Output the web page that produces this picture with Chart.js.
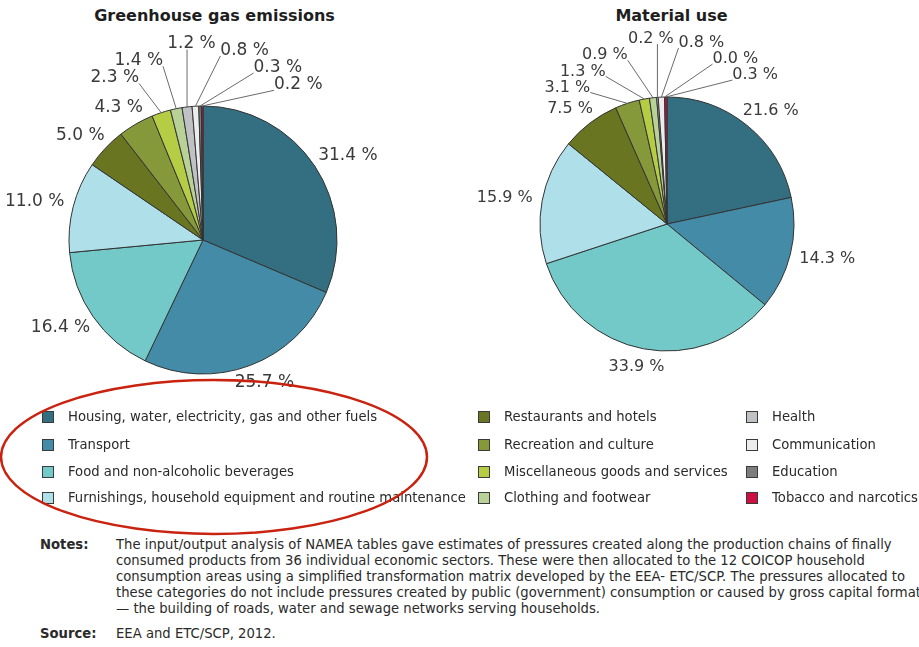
<!DOCTYPE html>
<html>
<head>
<meta charset="utf-8">
<script src="https://cdn.jsdelivr.net/npm/chart.js@4.4.1/dist/chart.umd.min.js"></script>
<style>
  body { margin: 0; width: 919px; height: 647px; overflow: hidden; background: #fff; position: relative; font-family: "DejaVu Sans", Verdana, sans-serif; color: #2a2a2a; }
  canvas { position: absolute; }
  .title { position: absolute; top: 6px; font-weight: bold; font-size: 16px; line-height: 20px; text-align: center; color: #1e1e1e; }
  .leg { position: absolute; font-size: 13.2px; line-height: 16px; white-space: nowrap; color: #2a2a2a; }
  .leg i { position: absolute; left: 0; top: 2px; width: 12px; height: 12px; box-sizing: border-box; border: 1px solid #3a3a3a; }
  .leg span { position: absolute; left: 26px; top: 0; }
  .notes { position: absolute; font-size: 13.2px; line-height: 16px; white-space: pre; color: #2a2a2a; }
  .notes b { position: absolute; left: -76px; top: 0; }
</style>
</head>
<body>
<div class="title" style="left:0;width:429px">Greenhouse gas emissions</div>
<div class="title" style="left:460px;width:423px">Material use</div>
<canvas id="ghg" width="406" height="480" style="left:0;top:0"></canvas>
<canvas id="mat" width="414" height="448" style="left:460px;top:0"></canvas>
<div id="legend"></div>
<div class="notes" style="left:116px;top:537px"><b>Notes:</b>The input/output analysis of NAMEA tables gave estimates of pressures created along the production chains of finally
consumed products from 36 individual economic sectors. These were then allocated to the 12 COICOP household
consumption areas using a simplified transformation matrix developed by the EEA- ETC/SCP. The pressures allocated to
these categories do not include pressures created by public (government) consumption or caused by gross capital formation
— the building of roads, water and sewage networks serving households.</div>
<div class="notes" style="left:116px;top:626px"><b>Source:</b>EEA and ETC/SCP, 2012.</div>
<svg width="919" height="647" style="position:absolute;left:0;top:0;pointer-events:none">
  <ellipse cx="214" cy="457" rx="213" ry="77" fill="none" stroke="#c9220f" stroke-width="2.5"/>
</svg>
<script>
const categories = [
  'Housing, water, electricity, gas and other fuels',
  'Transport',
  'Food and non-alcoholic beverages',
  'Furnishings, household equipment and routine maintenance',
  'Restaurants and hotels',
  'Recreation and culture',
  'Miscellaneous goods and services',
  'Clothing and footwear',
  'Health',
  'Communication',
  'Education',
  'Tobacco and narcotics'
];
const ghgValues = [31.4, 25.7, 16.4, 11.0, 5.0, 4.3, 2.3, 1.4, 1.2, 0.8, 0.3, 0.2];
const materialValues = [21.6, 14.3, 33.9, 15.9, 7.5, 3.1, 1.3, 0.9, 0.2, 0.8, 0.0, 0.3];
const colors = ['#336f80', '#438ba6', '#73c9c7', '#afe0ea', '#6a7522', '#86993a',
                '#b5cc45', '#b7d197', '#c0c1c5', '#ececec', '#7d7d7d', '#cc1040'];

// labels outside the pie, small ones fanned out with leader lines
const pieLabels = {
  id: 'pieLabels',
  afterDatasetsDraw(chart, args, opts) {
    const ctx = chart.ctx;
    const values = chart.data.datasets[0].data;
    const h = opts.lineHeight;
    ctx.save();
    ctx.font = opts.font;
    const items = chart.getDatasetMeta(0).data.map((arc, i) => {
      const p = arc.getProps(['x', 'y', 'startAngle', 'endAngle', 'outerRadius'], true);
      let a = (p.startAngle + p.endAngle) / 2 + Math.PI / 2;
      if (a > Math.PI) a -= 2 * Math.PI;
      const text = values[i].toFixed(1) + ' %';
      return {a, th: a, text, small: values[i] < opts.smallBelow, w: ctx.measureText(text).width,
              cx: p.x, cy: p.y, r: p.outerRadius};
    });
    // fanned labels sit high above the top of the pie, lower towards the sides
    const place = it => {
      const s = Math.sin(it.th), c = Math.cos(it.th);
      const gap = it.small ? Math.max(opts.gap, opts.fanGap * Math.pow(Math.max(c, 0), 3)) : opts.gap;
      const R = it.r + gap;
      it.x = it.cx + R * s + s * it.w / 2;
      it.y = it.cy - R * c - c * h / 2;
    };
    items.forEach(place);
    const hit = (p, q) => Math.abs(p.x - q.x) < (p.w + q.w) / 2 + 4 && Math.abs(p.y - q.y) < h;
    // push overlapping labels apart along the circle, keeping their slice order
    const [back, fwd] = opts.push;
    for (let k = 0; k < 4000; k++) {
      let moved = false;
      for (let i = 0; i < items.length; i++) {
        for (let j = i + 1; j < items.length; j++) {
          const p = items[i], q = items[j];
          if (!hit(p, q)) continue;
          const lo = p.a < q.a ? p : q, hi = lo === p ? q : p;
          lo.th -= back; hi.th += fwd;
          place(lo); place(hi);
          moved = true;
        }
      }
      if (!moved) break;
    }
    ctx.strokeStyle = opts.lineColor;
    ctx.lineWidth = 1;
    items.forEach(it => {
      if (!it.small) return;
      const sx = it.cx + it.r * Math.sin(it.a), sy = it.cy - it.r * Math.cos(it.a);
      const ex = Math.min(Math.max(sx, it.x - it.w / 2), it.x + it.w / 2);
      const ey = Math.min(Math.max(sy, it.y - h / 2 + 3), it.y + h / 2 - 3);
      ctx.beginPath();
      ctx.moveTo(sx, sy);
      ctx.lineTo(ex, ey);
      ctx.stroke();
    });
    ctx.fillStyle = opts.color;
    ctx.textAlign = 'center';
    ctx.textBaseline = 'middle';
    items.forEach(it => ctx.fillText(it.text, it.x, it.y));
    ctx.restore();
  }
};

function makePie(id, values, radius, fontSize, fanGap, push) {
  return new Chart(document.getElementById(id), {
    type: 'pie',
    data: {
      labels: categories,
      datasets: [{
        data: values,
        backgroundColor: colors,
        borderColor: '#333',
        borderWidth: 1
      }]
    },
    options: {
      responsive: false,
      animation: false,
      events: [],
      radius: radius,
      layout: { padding: 0 },
      plugins: {
        legend: { display: false },
        tooltip: { enabled: false },
        pieLabels: {
          font: fontSize + 'px "DejaVu Sans"',
          lineHeight: fontSize,
          color: '#3a3a3a',
          lineColor: '#6a6a6a',
          smallBelow: 4,
          gap: 10,
          fanGap: fanGap,
          push: push
        }
      }
    },
    plugins: [pieLabels]
  });
}

makePie('ghg', ghgValues, 134, 17, 54, [0.0015, 0.0025]);
makePie('mat', materialValues, 127, 16, 51, [0.0019, 0.0021]);

// shared legend, 3 columns filled top to bottom
const legCols = [42, 478, 746];
const legRows = [417, 445, 472, 498];
const legend = document.getElementById('legend');
categories.forEach((name, i) => {
  const d = document.createElement('div');
  d.className = 'leg';
  d.style.left = legCols[Math.floor(i / 4)] + 'px';
  d.style.top = (legRows[i % 4] - 8) + 'px';
  d.innerHTML = '<i style="background:' + colors[i] + '"></i><span>' + name + '</span>';
  legend.appendChild(d);
});
</script>
</body>
</html>
